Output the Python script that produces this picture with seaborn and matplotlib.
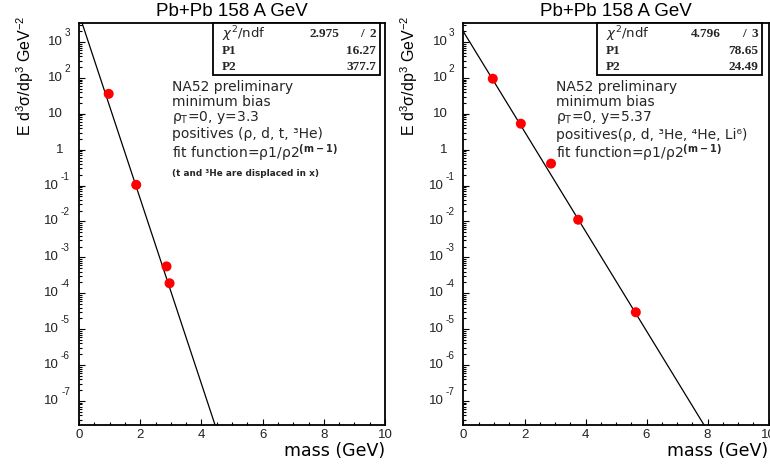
import numpy as np
import pandas as pd
import matplotlib
matplotlib.use("Agg")
import matplotlib.pyplot as plt
import seaborn as sns
from matplotlib.patches import Rectangle
from matplotlib.ticker import MultipleLocator, LogLocator, NullFormatter

sns.set_theme(style="ticks")
plt.rcParams["font.family"] = ["Liberation Sans", "DejaVu Sans"]
plt.rcParams["mathtext.fontset"] = "custom"
plt.rcParams["mathtext.rm"] = "Liberation Sans"
plt.rcParams["mathtext.it"] = "Liberation Sans:italic"
plt.rcParams["mathtext.bf"] = "Liberation Sans:bold"

# ---- data: rapidity y = 3.3 (p, d, t, 3He) ----
mass_y33 = [0.97, 1.87, 2.86, 2.96]
yield_y33 = [36.0, 0.105, 5.6e-4, 1.9e-4]
p1_y33, p2_y33 = 16.27, 377.7
chi2_y33, ndf_y33 = 2.975, 2

# ---- data: rapidity y = 5.37 (p, d, 3He, 4He, 6Li) ----
mass_y537 = [0.96, 1.88, 2.87, 3.76, 5.65]
yield_y537 = [95.0, 5.3, 0.41, 0.0112, 2.96e-5]
p1_y537, p2_y537 = 78.65, 24.49
chi2_y537, ndf_y537 = 4.796, 3

W, H = 770, 466
fig = plt.figure(figsize=(W / 100, H / 100), dpi=100)
fig.patch.set_facecolor("white")

PX = 0.72  # points per pixel at 100 dpi


def fig_box(x0, y0, x1, y1):
    """pixel box (top-left origin) -> figure fraction rect"""
    return [x0 / W, 1 - y1 / H, (x1 - x0) / W, (y1 - y0) / H]


def draw_panel(x0, x1, mass, yld, p1, p2, chi2, ndf, box_x0, box_x1, notes, small_note):
    ax = fig.add_axes(fig_box(x0, 23, x1, 425))
    ax.set_facecolor("white")

    grid = np.linspace(0, 10, 600)
    fit = pd.DataFrame({"m": grid, "f": p1 / p2 ** (grid - 1)})
    pts = pd.DataFrame({"m": mass, "y": yld})

    sns.lineplot(data=fit, x="m", y="f", ax=ax, color="black", lw=0.9, zorder=2)
    sns.scatterplot(data=pts, x="m", y="y", ax=ax, color="#ff0000", s=52,
                    edgecolor="none", zorder=3)

    ax.set_yscale("log")
    ax.set_xlim(0, 10)
    ax.set_ylim(10 ** -7.67, 10 ** 3.53)
    ax.set_xlabel("")
    ax.set_ylabel("")

    ax.xaxis.set_major_locator(MultipleLocator(2))
    ax.xaxis.set_minor_locator(MultipleLocator(0.5))
    ax.yaxis.set_major_locator(LogLocator(base=10, numticks=20))
    ax.yaxis.set_minor_locator(LogLocator(base=10, subs=np.arange(2, 10), numticks=20))
    ax.yaxis.set_major_formatter(NullFormatter())
    ax.yaxis.set_minor_formatter(NullFormatter())
    ax.tick_params(which="both", direction="in", top=False, right=False,
                   width=0.8, color="black")
    ax.tick_params(which="major", length=4.0)
    ax.tick_params(which="minor", length=2.2)
    ax.tick_params(axis="x", labelsize=9.5, pad=3, labelcolor="#222222")
    for sp in ax.spines.values():
        sp.set_linewidth(1.3)
        sp.set_color("black")

    # decade labels, "10" with a raised exponent
    ytr = ax.get_yaxis_transform()
    for k in range(-7, 4):
        yv = 10.0 ** k
        kw = dict(xycoords=ytr, textcoords="offset points", ha="right",
                  va="center", color="#222222")
        if k == 0:
            ax.annotate("1", (0, yv), xytext=(-16 * PX, 0), fontsize=9.5, **kw)
        elif k == 1:
            ax.annotate("10", (0, yv), xytext=(-16 * PX, 0), fontsize=9.5, **kw)
        else:
            e = str(k)
            wexp = 5 if len(e) == 1 else 9
            ax.annotate(e, (0, yv), xytext=(-9 * PX, 9 * PX), fontsize=7.2, **kw)
            ax.annotate("10", (0, yv), xytext=(-(11 + wexp) * PX, 0), fontsize=9.5, **kw)

    # titles
    cx = (x0 + x1) / 2
    fig.text(cx / W, 1 - 12 / H, "Pb+Pb 158 A GeV", ha="center", va="center",
             fontsize=13.5, color="black")
    fig.text((x0 - 54) / W, 1 - 75.5 / H, r"E d$^{3}$σ/dp$^{3}$ GeV$^{-2}$",
             rotation=90, ha="center", va="center", fontsize=11.5, color="black")
    fig.text(x1 / W, 1 - 451 / H, "mass (GeV)", ha="right", va="center",
             fontsize=12.5, family="DejaVu Sans", color="black")

    # statistics box
    r = fig_box(box_x0, 23, box_x1, 75)
    fig.add_artist(Rectangle((r[0], r[1]), r[2], r[3], transform=fig.transFigure,
                             facecolor="white", edgecolor="black", lw=1.3, zorder=5))
    fig.text((box_x0 + 9) / W, 1 - 34 / H, r"$\chi^{2}$/ndf", ha="left", va="center",
             fontsize=9.5, family="DejaVu Sans", math_fontfamily="dejavusans", zorder=6)
    serif = dict(family="Liberation Serif", fontweight="bold", fontsize=9.5, zorder=6,
                 va="center")
    fig.text((box_x1 - 41) / W, 1 - 34 / H, f"{chi2:.3f}", ha="right", **serif)
    fig.text((box_x1 - 18) / W, 1 - 34 / H, "/", ha="center", **serif)
    fig.text((box_x1 - 4) / W, 1 - 34 / H, f"{ndf}", ha="right", **serif)
    fig.text((box_x0 + 9) / W, 1 - 51 / H, "P1", ha="left", **serif)
    fig.text((box_x1 - 4) / W, 1 - 51 / H, f"{p1:.2f}", ha="right", **serif)
    fig.text((box_x0 + 9) / W, 1 - 67 / H, "P2", ha="left", **serif)
    fig.text((box_x1 - 4) / W, 1 - 67 / H, f"{p2:.4g}", ha="right", **serif)

    # annotation block
    tx = x0 + 93
    for (ypx, s) in notes:
        fig.text(tx / W, 1 - ypx / H, s, ha="left", va="center", fontsize=10,
                 family="DejaVu Sans", math_fontfamily="dejavusans", zorder=4)
    if small_note:
        fig.text(tx / W, 1 - 174 / H, small_note, ha="left", va="center", fontsize=6.4,
                 family="DejaVu Sans", fontweight="bold", zorder=4)
    return ax


fit_label = r"fit function=ρ1/ρ2$^{\bf (m-1)}$"

draw_panel(79, 385, mass_y33, yield_y33, p1_y33, p2_y33, chi2_y33, ndf_y33, 213, 380,
           [(87, "NA52 preliminary"),
            (102, "minimum bias"),
            (117, r"ρ$_{\rm T}$=0, y=3.3"),
            (134, "positives (ρ, d, t, ³He)"),
            (153, fit_label)],
           "(t and ³He are displaced in x)")

draw_panel(463.5, 768.5, mass_y537, yield_y537, p1_y537, p2_y537, chi2_y537, ndf_y537,
           597, 762,
           [(87, "NA52 preliminary"),
            (102, "minimum bias"),
            (117, r"ρ$_{\rm T}$=0, y=5.37"),
            (135, "positives(ρ, d, ³He, ⁴He, Li⁶)"),
            (153, fit_label)],
           None)

fig.savefig("out.png", dpi=100, facecolor="white")
